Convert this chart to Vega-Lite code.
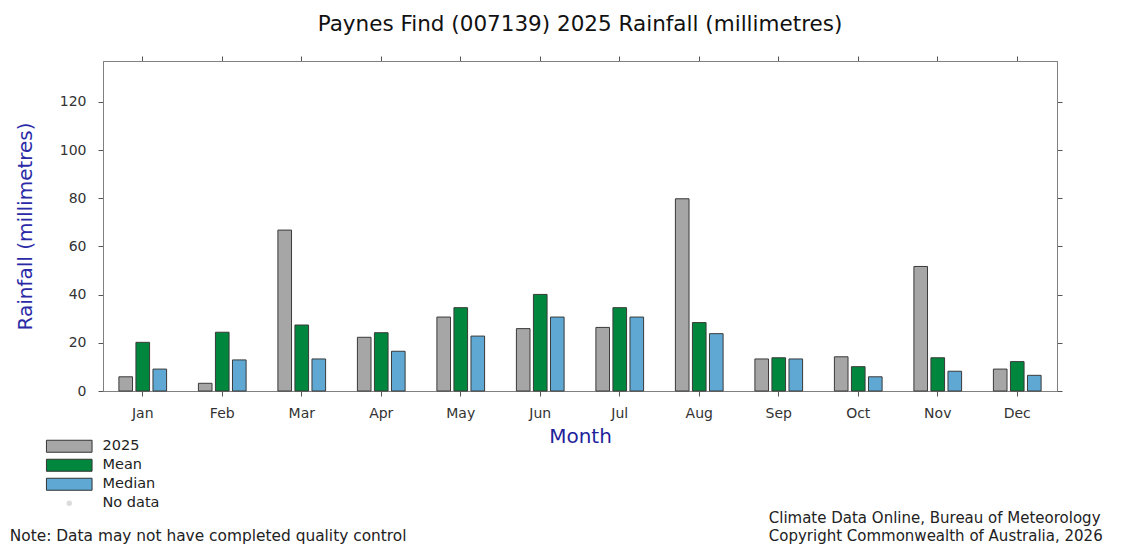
{
  "$schema": "https://vega.github.io/schema/vega-lite/v6.json",
  "width": 954,
  "height": 330,
  "autosize": "none",
  "padding": {"left": 103, "top": 61, "right": 64, "bottom": 154},
  "background": "white",
  "title": {
    "text": "Paynes Find (007139) 2025 Rainfall (millimetres)",
    "font": "DejaVu Sans",
    "fontSize": 21.5,
    "fontWeight": "normal",
    "color": "#111",
    "anchor": "middle",
    "offset": 20
  },
  "config": {
    "view": {"stroke": "#808080", "strokeWidth": 1},
    "font": "DejaVu Sans",
    "axis": {"grid": false, "domainColor": "#808080", "tickColor": "#555", "tickSize": 5, "labelColor": "#333", "labelFontSize": 14}
  },
  "datasets": {
    "rain": [
      {"month": "Jan", "series": "2025", "value": 5.9},
      {"month": "Jan", "series": "Mean", "value": 20.2},
      {"month": "Jan", "series": "Median", "value": 9.1},
      {"month": "Feb", "series": "2025", "value": 3.2},
      {"month": "Feb", "series": "Mean", "value": 24.4},
      {"month": "Feb", "series": "Median", "value": 12.9},
      {"month": "Mar", "series": "2025", "value": 66.8},
      {"month": "Mar", "series": "Mean", "value": 27.4},
      {"month": "Mar", "series": "Median", "value": 13.3},
      {"month": "Apr", "series": "2025", "value": 22.3},
      {"month": "Apr", "series": "Mean", "value": 24.2},
      {"month": "Apr", "series": "Median", "value": 16.5},
      {"month": "May", "series": "2025", "value": 30.7},
      {"month": "May", "series": "Mean", "value": 34.6},
      {"month": "May", "series": "Median", "value": 22.8},
      {"month": "Jun", "series": "2025", "value": 25.9},
      {"month": "Jun", "series": "Mean", "value": 40.1},
      {"month": "Jun", "series": "Median", "value": 30.7},
      {"month": "Jul", "series": "2025", "value": 26.4},
      {"month": "Jul", "series": "Mean", "value": 34.6},
      {"month": "Jul", "series": "Median", "value": 30.7},
      {"month": "Aug", "series": "2025", "value": 79.8},
      {"month": "Aug", "series": "Mean", "value": 28.4},
      {"month": "Aug", "series": "Median", "value": 23.8},
      {"month": "Sep", "series": "2025", "value": 13.3},
      {"month": "Sep", "series": "Mean", "value": 13.8},
      {"month": "Sep", "series": "Median", "value": 13.3},
      {"month": "Oct", "series": "2025", "value": 14.2},
      {"month": "Oct", "series": "Mean", "value": 10.1},
      {"month": "Oct", "series": "Median", "value": 5.9},
      {"month": "Nov", "series": "2025", "value": 51.7},
      {"month": "Nov", "series": "Mean", "value": 13.8},
      {"month": "Nov", "series": "Median", "value": 8.2},
      {"month": "Dec", "series": "2025", "value": 9.1},
      {"month": "Dec", "series": "Mean", "value": 12.2},
      {"month": "Dec", "series": "Median", "value": 6.5}
    ],
    "note": [{"line": "Note: Data may not have completed quality control"}],
    "credit": [{"line": "Climate Data Online, Bureau of Meteorology\nCopyright Commonwealth of Australia, 2026"}]
  },
  "layer": [
    {
      "data": {"name": "rain"},
      "mark": {"type": "bar", "stroke": "#3a3a3a", "strokeWidth": 1},
      "encoding": {
        "x": {
          "field": "month", "type": "nominal",
          "sort": ["Jan","Feb","Mar","Apr","May","Jun","Jul","Aug","Sep","Oct","Nov","Dec"],
          "scale": {"paddingInner": 0.4, "paddingOuter": 0.2},
          "axis": {"title": "Month", "titleColor": "#1f1f9c", "titleFontSize": 20, "titleFontWeight": "normal", "titlePadding": 6, "labelAngle": 0, "labelPadding": 10, "orient": "bottom"}
        },
        "xOffset": {"field": "series", "type": "nominal", "sort": ["2025","Mean","Median"], "scale": {"paddingInner": 0.2}},
        "y": {
          "field": "value", "type": "quantitative",
          "scale": {"domain": [0, 137], "nice": false, "zero": true},
          "axis": {"values": [0,20,40,60,80,100,120], "title": "Rainfall (millimetres)", "titleColor": "#2a2aa6", "titleFontSize": 20, "titleFontWeight": "normal", "titlePadding": 24, "labelPadding": 12, "orient": "left"}
        },
        "color": {
          "field": "series", "type": "nominal",
          "scale": {"domain": ["2025","Mean","Median","No data"], "range": ["#a6a6a6","#00873d","#5ea8d3","#dcdcdc"]},
          "legend": {
            "orient": "none", "legendX": -41, "legendY": 378, "title": null, "direction": "vertical",
            "symbolType": {"expr": "datum.value === 'No data' ? 'circle' : 'M-3.8,-1H3.8V1H-3.8Z'"},
            "symbolSize": {"expr": "datum.value === 'No data' ? 30 : 144"},
            "symbolStrokeColor": {"expr": "datum.value === 'No data' ? 'transparent' : '#333'"},
            "symbolStrokeWidth": 1,
            "labelFontSize": 14.5, "labelColor": "#222", "labelOffset": 26, "rowPadding": 2
          }
        }
      }
    },
    {
      "data": {"name": "rain"},
      "mark": {"type": "point", "opacity": 0},
      "encoding": {
        "x": {"field": "month", "type": "nominal", "sort": ["Jan","Feb","Mar","Apr","May","Jun","Jul","Aug","Sep","Oct","Nov","Dec"], "axis": {"orient": "top", "labels": false, "title": null}},
        "y": {"field": "value", "type": "quantitative", "axis": {"orient": "right", "labels": false, "title": null, "values": [0,20,40,60,80,100,120]}}
      }
    },
    {
      "data": {"name": "note"},
      "mark": {"type": "text", "align": "left", "baseline": "middle", "fontSize": 15.4, "color": "#222", "dx": -133},
      "encoding": {
        "x": {"datum": "Jan", "type": "nominal", "axis": null},
        "y": {"datum": -60, "type": "quantitative", "axis": null},
        "text": {"field": "line"}
      }
    },
    {
      "data": {"name": "credit"},
      "mark": {"type": "text", "align": "left", "baseline": "middle", "fontSize": 15, "color": "#222", "dx": -10, "lineBreak": "\n", "lineHeight": 18},
      "encoding": {
        "x": {"datum": "Sep", "type": "nominal", "axis": null},
        "y": {"datum": -52.8, "type": "quantitative", "axis": null},
        "text": {"field": "line"}
      }
    }
  ]
}
